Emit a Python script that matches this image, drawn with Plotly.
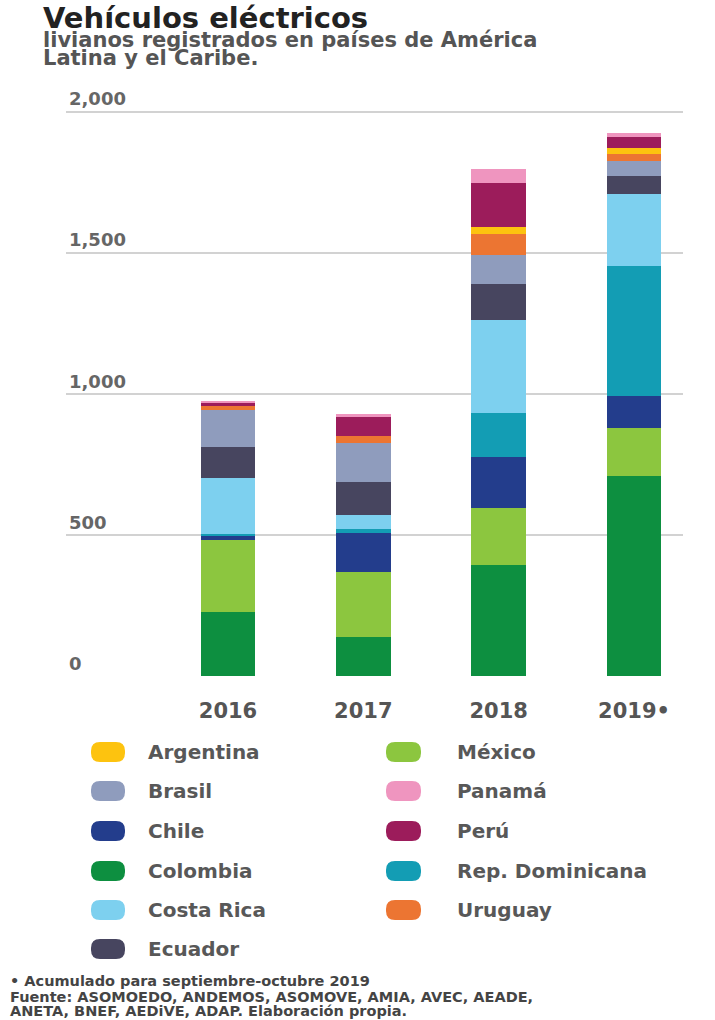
import plotly.graph_objects as go

# Registered light electric vehicles, stacked by country
years = ["2016", "2017", "2018", "2019"]
year_labels = ["2016", "2017", "2018", "2019•"]

colombia = [226, 137, 394, 710]
mexico = [256, 233, 203, 168]
chile = [14, 138, 178, 115]
rep_dominicana = [8, 14, 157, 461]
costa_rica = [197, 49, 330, 255]
ecuador = [112, 115, 127, 62]
brasil = [130, 139, 104, 53]
uruguay = [14, 27, 74, 26]
argentina = [0, 0, 26, 23]
peru = [10, 65, 154, 39]
panama = [9, 12, 51, 12]

y_ticks = [0, 500, 1000, 1500, 2000]
y_tick_text = ["0", "500", "1,000", "1,500", "2,000"]

# stacking order, bottom to top
series = [
    ("Colombia", colombia, "#0d8f40"),
    ("México", mexico, "#8cc63f"),
    ("Chile", chile, "#233d8c"),
    ("Rep. Dominicana", rep_dominicana, "#139db4"),
    ("Costa Rica", costa_rica, "#7dd0ef"),
    ("Ecuador", ecuador, "#47455f"),
    ("Brasil", brasil, "#8f9cbd"),
    ("Uruguay", uruguay, "#ec7532"),
    ("Argentina", argentina, "#fdc30f"),
    ("Perú", peru, "#9c1c5b"),
    ("Panamá", panama, "#ef95bf"),
]
colors = {name: col for name, _, col in series}

legend_col1 = ["Argentina", "Brasil", "Chile", "Colombia", "Costa Rica", "Ecuador"]
legend_col2 = ["México", "Panamá", "Perú", "Rep. Dominicana", "Uruguay"]

W, H = 715, 1020
FONT = "DejaVu Sans"


def px(x):
    return x / W


def py(y):
    return 1 - y / H


fig = go.Figure()
for name, vals, col in series:
    fig.add_trace(go.Bar(
        x=years, y=vals, name=name, marker=dict(color=col, line=dict(width=0)),
        showlegend=False,
    ))

# 0.28215 px per vehicle; baseline at pixel row 676
y_max = 2120
y_top_px = 676 - y_max * 0.28215

fig.update_layout(
    width=W, height=H,
    margin=dict(l=0, r=0, t=0, b=0),
    paper_bgcolor="white", plot_bgcolor="rgba(0,0,0,0)",
    barmode="stack", bargap=0.594,
    font=dict(family=FONT, color="#555555"),
    xaxis=dict(
        type="category", domain=[px(66), px(683)], range=[-1.197, 3.362],
        tickvals=years, ticktext=year_labels, ticks="", showgrid=False,
        showline=False, zeroline=False, ticklabelstandoff=20,
        tickfont=dict(family=FONT, size=21, color="#555555", weight=700),
    ),
    yaxis=dict(
        domain=[py(676), py(y_top_px)], range=[0, y_max],
        tickvals=y_ticks, ticktext=y_tick_text, ticklabelposition="inside top",
        showgrid=True, gridcolor="#d2d2d2", gridwidth=1.5, zeroline=False,
        showline=False, ticks="",
        tickfont=dict(family=FONT, size=18, color="#666666", weight=700),
    ),
)

annotations = []


def add_text(x, y, text, size, color, weight=700):
    annotations.append(dict(
        x=px(x), y=py(y), xref="paper", yref="paper", text=text,
        showarrow=False, xanchor="left", yanchor="middle", borderpad=0,
        font=dict(family=FONT, size=size, color=color, weight=weight),
    ))


add_text(42, 18, "Vehículos eléctricos", 29, "#222222")
add_text(42, 40, "livianos registrados en países de América", 21, "#555555")
add_text(42, 58, "Latina y el Caribe.", 21, "#555555")

add_text(9, 981, "• Acumulado para septiembre-octubre 2019", 14.5, "#444444")
add_text(9, 997, "Fuente: ASOMOEDO, ANDEMOS, ASOMOVE, AMIA, AVEC, AEADE,", 14.5, "#444444")
add_text(9, 1011, "ANETA, BNEF, AEDiVE, ADAP. Elaboración propia.", 14.5, "#444444")

shapes = []


def pill(x0, x1, yc, h, r, color):
    y0, y1 = yc - h / 2, yc + h / 2
    pts = [
        ("M", (x0 + r, y0)), ("L", (x1 - r, y0)), ("Q", (x1, y0), (x1, y0 + r)),
        ("L", (x1, y1 - r)), ("Q", (x1, y1), (x1 - r, y1)), ("L", (x0 + r, y1)),
        ("Q", (x0, y1), (x0, y1 - r)), ("L", (x0, y0 + r)), ("Q", (x0, y0), (x0 + r, y0)),
    ]
    d = ""
    for cmd, *coords in pts:
        d += cmd + " " + " ".join(f"{px(a):.5f},{py(b):.5f}" for a, b in coords) + " "
    shapes.append(dict(type="path", path=d + "Z", xref="paper", yref="paper",
                       fillcolor=color, line=dict(width=0)))


row_y = [752, 791, 831, 871, 910, 949]
for i, name in enumerate(legend_col1):
    pill(91, 125, row_y[i], 20, 9, colors[name])
    add_text(147, row_y[i], name, 20, "#585858")
for i, name in enumerate(legend_col2):
    pill(386, 421, row_y[i], 20, 9, colors[name])
    add_text(456, row_y[i], name, 20, "#585858")

fig.update_layout(annotations=annotations, shapes=shapes)

fig.write_html("out.html")
